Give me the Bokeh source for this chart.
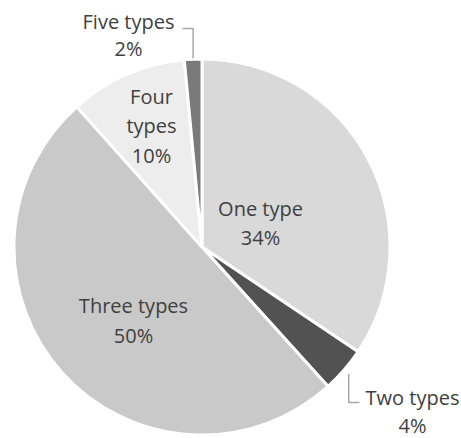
import numpy as np
from bokeh.plotting import figure
from bokeh.models import Range1d, ColumnDataSource
from bokeh.core.properties import value
from bokeh.embed import file_html
from bokeh.resources import INLINE

# ---- data ----
categories = ["One type", "Two types", "Three types", "Four types", "Five types"]
shares = [34.4, 3.9, 50.1, 10.1, 1.5]
pct_labels = ["34%", "4%", "50%", "10%", "2%"]
colors = ["#d9d9d9", "#525252", "#c9c9c9", "#ededed", "#7a7a7a"]

W, H = 461, 438
MARGIN = 0

def dx(sx):
    return sx - MARGIN

def dy(sy):
    return (H + MARGIN) - sy

cx, cy, r = dx(201.5), dy(246.5), 188

p = figure(width=W, height=H, x_range=Range1d(0, W), y_range=Range1d(0, H),
           output_backend="svg", toolbar_location=None, min_border=0)
p.axis.visible = False
p.grid.visible = False
p.outline_line_color = None
p.background_fill_color = "white"
p.border_fill_color = "white"

fr = np.array(shares) / sum(shares)
cum = np.concatenate([[0], np.cumsum(fr)])
start = np.pi / 2 - 2 * np.pi * cum[:-1]
end = np.pi / 2 - 2 * np.pi * cum[1:]

src = ColumnDataSource(dict(start=start, end=end, color=colors, cat=categories))
p.wedge(x=cx, y=cy, radius=r, start_angle="start", end_angle="end",
        direction="clock", fill_color="color", line_color="white",
        line_width=3, source=src)

# ---- labels ----
font = value("Open Sans")
tc = "#404040"
lines = [
    # (text, screen x, screen y)
    ("One type", 260, 208), (pct_labels[0], 260, 237),
    ("Two types", 412, 397), (pct_labels[1], 412, 425),
    ("Three types", 133, 305), (pct_labels[2], 133, 335),
    ("Four", 151, 96), ("types", 151, 125), (pct_labels[3], 151, 155),
    ("Five types", 128, 21), (pct_labels[4], 128, 48),
]
p.text(x=[dx(l[1]) for l in lines], y=[dy(l[2]) for l in lines],
       text=[l[0] for l in lines], text_align="center", text_baseline="middle",
       text_font=font, text_font_size="20px", text_color=tc)

# ---- leader lines from slice mid-angles ----
mid = (start + end) / 2
# Five types
a = mid[4]
x0, y0 = cx + r * np.cos(a), cy + r * np.sin(a)
p.line(x=[dx(182), x0, x0], y=[dy(28), dy(28), y0 + 1], line_color="#a6a6a6", line_width=1.5)
# Two types
a = mid[1]
x1, y1 = cx + (r + 6) * np.cos(a), cy + (r + 6) * np.sin(a)
p.line(x=[x1, x1, dx(359)], y=[y1, dy(402), dy(402)], line_color="#a6a6a6", line_width=1.5)

open("out.html", "w").write(file_html(p, INLINE))
